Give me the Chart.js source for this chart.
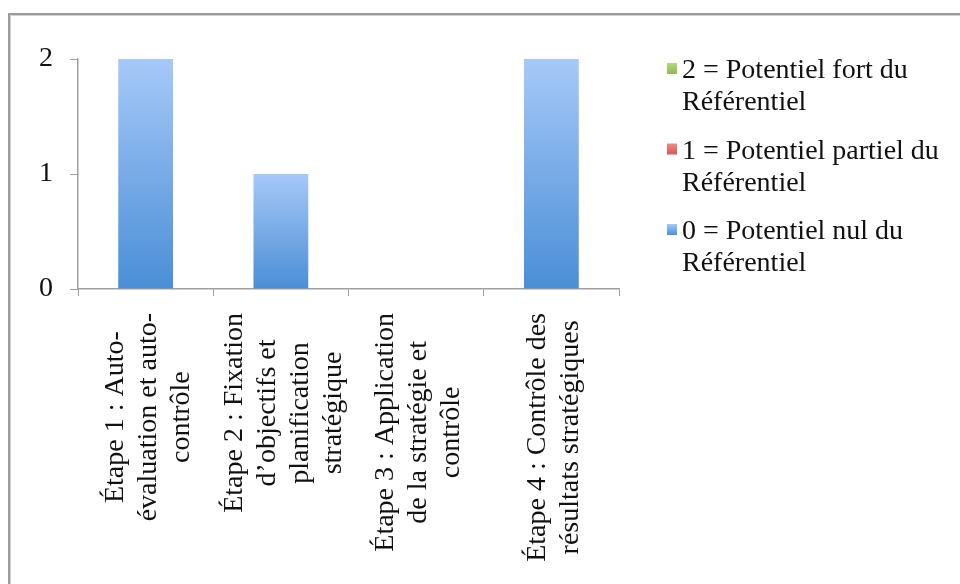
<!DOCTYPE html>
<html>
<head>
<meta charset="utf-8">
<script src="https://cdn.jsdelivr.net/npm/chart.js@4/dist/chart.umd.min.js"></script>
<style>
  html, body { margin: 0; padding: 0; background: #fff; }
  #wrap { position: relative; width: 960px; height: 584px; overflow: hidden; }
  #frame { position: absolute; left: 8px; top: 13px; width: 1000px; height: 1000px;
           border-left: 2px solid #9c9c9c; border-top: 2px solid #9c9c9c;
           box-shadow: inset 1px 1px 0 #d0d0d0; pointer-events: none; }
  canvas { position: absolute; left: 0; top: 0; }
</style>
</head>
<body>
<div id="wrap">
  <canvas id="c" width="960" height="584"></canvas>
  <div id="frame"></div>
</div>
<script>
// ---- data ----
const categories = [
  ["Étape 1 : Auto-", "évaluation et auto-", "contrôle"],
  ["Étape 2 : Fixation", "d’objectifs et", "planification", "stratégique"],
  ["Étape 3 : Application", "de la stratégie et", "contrôle"],
  ["Étape 4 : Contrôle des", "résultats stratégiques"]
];
const seriesNames = [
  ["2 = Potentiel fort du", "Référentiel"],
  ["1 = Potentiel partiel du", "Référentiel"],
  ["0 = Potentiel nul du", "Référentiel"]
];
const potentielFort = [0, 0, 0, 0];
const potentielPartiel = [0, 0, 0, 0];
const potentielNul = [2, 1, 0, 2];
const yTicks = [0, 1, 2];

// ---- styles ----
const FONT = "'Liberation Serif', 'Times New Roman', serif";
const FS = 28;
const seriesColors = [
  ["#b3d97c", "#8fb855"],
  ["#ee8a8a", "#d35858"],
  ["#a6c9f8", "#4a8ed6"]
];

function barGradient(ctx, idx) {
  const chart = ctx.chart;
  const ys = chart.scales && chart.scales.y;
  if (!ys || ctx.type !== 'data') return seriesColors[idx][1];
  const v = ctx.raw || 0;
  const top = ys.getPixelForValue(v);
  const bot = ys.getPixelForValue(0);
  if (!isFinite(top) || !isFinite(bot) || top === bot) return seriesColors[idx][1];
  const g = chart.ctx.createLinearGradient(0, top, 0, bot);
  g.addColorStop(0, seriesColors[idx][0]);
  g.addColorStop(1, seriesColors[idx][1]);
  return g;
}

const xLabelPlugin = {
  id: 'xLabels',
  afterDraw(chart) {
    const ctx = chart.ctx;
    const xs = chart.scales.x;
    const area = chart.chartArea;
    const lh = 33;
    ctx.save();
    ctx.font = FS + "px " + FONT;
    ctx.fillStyle = "#111";
    ctx.textAlign = "center";
    ctx.textBaseline = "middle";
    categories.forEach((lines, i) => {
      const x = xs.getPixelForValue(i) + 3;
      const maxW = Math.max(...lines.map(l => ctx.measureText(l).width));
      const yc = area.bottom + 24 + maxW / 2;
      ctx.save();
      ctx.translate(x, yc);
      ctx.rotate(-Math.PI / 2);
      lines.forEach((l, j) => {
        ctx.fillText(l, 0, (j - (lines.length - 1) / 2) * lh);
      });
      ctx.restore();
    });
    ctx.restore();
  }
};

const legendPlugin = {
  id: 'sideLegend',
  afterDraw(chart) {
    const ctx = chart.ctx;
    const textX = 682, boxX = 667, firstY = 71, entryGap = 80.5, lh = 32;
    ctx.save();
    ctx.font = FS + "px " + FONT;
    ctx.textAlign = "left";
    ctx.textBaseline = "middle";
    seriesNames.forEach((lines, i) => {
      const y0 = firstY + i * entryGap;
      const g = ctx.createLinearGradient(0, y0 - 8, 0, y0 + 3);
      g.addColorStop(0, seriesColors[i][0]);
      g.addColorStop(1, seriesColors[i][1]);
      ctx.fillStyle = g;
      ctx.fillRect(boxX, y0 - 8, 10, 11);
      ctx.fillStyle = "#111";
      lines.forEach((l, j) => ctx.fillText(l, textX, y0 + j * lh));
    });
    ctx.restore();
  }
};

const datasets = [potentielFort, potentielPartiel, potentielNul].map((d, i) => ({
  label: seriesNames[i].join(" "),
  data: d,
  backgroundColor: (c) => barGradient(c, i),
  borderWidth: 0,
  barPercentage: 0.405,
  categoryPercentage: 1.0
}));

new Chart(document.getElementById('c'), {
  type: 'bar',
  data: { labels: categories.map(c => c.join(" ")), datasets },
  plugins: [xLabelPlugin, legendPlugin],
  options: {
    responsive: false,
    animation: false,
    layout: { padding: { left: 0, top: 59, right: 341, bottom: 288 } },
    plugins: { legend: { display: false }, tooltip: { enabled: false } },
    scales: {
      x: {
        stacked: true,
        grid: { display: true, drawOnChartArea: false, drawTicks: true, tickLength: 7, color: "#a0a0a0", offset: true },
        border: { display: true, color: "#a0a0a0", width: 1.5 },
        ticks: { display: false },
        afterFit(s) { s.height = 7; }
      },
      y: {
        stacked: true,
        min: 0, max: 2,
        afterBuildTicks(s) { s.ticks = yTicks.map(v => ({ value: v })); },
        grid: { display: true, drawOnChartArea: false, drawTicks: true, tickLength: 8, color: "#a0a0a0" },
        border: { display: true, color: "#a0a0a0", width: 1.5 },
        ticks: { color: "#111", padding: 17, font: { family: FONT, size: FS } },
        afterFit(s) { s.width = 78; }
      }
    }
  }
});
</script>
</body>
</html>
